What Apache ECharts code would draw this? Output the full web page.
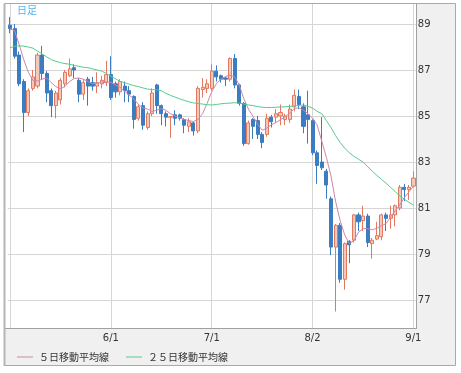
<!DOCTYPE html>
<html><head><meta charset="utf-8">
<script src="https://cdn.jsdelivr.net/npm/echarts@6/dist/echarts.min.js"></script>
<style>html,body{margin:0;padding:0;background:#fff;}#c{width:461px;height:373px;}</style>
</head><body><div id="c"></div>
<script>
const dates = ['4/30',
 '5/3','5/4','5/5','5/6','5/7','5/10','5/11','5/12','5/13','5/14','5/17','5/18','5/19','5/20','5/21','5/24','5/25','5/26','5/27','5/28','5/31',
 '6/1','6/2','6/3','6/4','6/7','6/8','6/9','6/10','6/11','6/14','6/15','6/16','6/17','6/18','6/21','6/22','6/23','6/24','6/25','6/28','6/29','6/30',
 '7/1','7/2','7/5','7/6','7/7','7/8','7/9','7/12','7/13','7/14','7/15','7/16','7/19','7/20','7/21','7/22','7/23','7/26','7/27','7/28','7/29','7/30',
 '8/2','8/3','8/4','8/5','8/6','8/9','8/10','8/11','8/12','8/13','8/16','8/17','8/18','8/19','8/20','8/23','8/24','8/25','8/26','8/27','8/30','8/31',
 '9/1'];
const open = [88.95,88.8,87.65,86.5,85.15,86.2,86.3,87.65,86.85,86.1,
 85.45,85.7,86.4,86.75,87.1,86.55,85.95,86.6,86.45,86.3,
 86.4,86.45,86.8,86.4,86.05,86.3,86.1,85.85,84.9,85.45,
 84.5,85.1,86.35,85.45,85.1,84.95,85.05,85.05,84.85,84.55,
 84.7,84.35,86.15,86.2,86.2,86.95,86.75,86.65,86.6,87.5,
 86.35,85.55,83.8,84.85,84.8,84.2,84.2,84.95,84.95,85.0,
 84.85,84.85,85.4,85.85,85.4,85.05,84.8,83.4,83.0,82.6,
 81.4,79.3,80.25,77.9,79.55,79.6,80.7,80.45,80.65,79.45,
 79.65,79.75,80.7,80.55,80.7,81.0,81.9,81.8,81.95];
const close = [88.8,87.6,86.4,85.15,86.1,86.7,87.65,86.85,86.0,85.45,
 86.0,86.55,86.9,87.05,87.0,85.95,86.45,86.3,86.3,86.45,
 86.55,86.8,85.8,86.05,86.5,86.1,85.95,84.85,85.4,84.6,
 85.1,86.0,85.45,85.1,84.95,84.97,84.9,84.9,84.6,84.75,
 84.35,86.2,86.25,86.4,86.95,86.7,86.6,86.6,87.5,86.35,
 85.55,83.8,84.7,84.55,84.2,83.85,84.9,84.75,85.1,85.15,
 85.0,85.3,85.9,85.5,84.55,84.85,83.4,82.85,82.75,82.0,
 79.3,80.25,77.9,79.45,79.4,80.7,80.4,80.65,79.5,79.6,
 79.8,80.7,80.55,80.7,81.1,81.9,81.8,81.9,82.3];
const low = [88.6,87.5,86.3,84.3,85.0,86.1,86.2,86.6,85.6,84.95,
 84.9,85.5,86.25,86.7,86.65,85.6,85.7,85.45,86.1,86.0,
 86.2,86.3,85.7,85.8,85.9,85.6,85.6,84.45,84.8,84.4,
 84.4,85.0,85.1,84.6,84.55,84.05,84.6,84.8,84.25,84.3,
 84.15,84.25,85.8,86.0,86.1,86.5,86.45,86.3,86.5,86.2,
 85.45,83.7,83.75,84.0,84.0,83.6,84.1,84.5,84.7,84.6,
 84.6,84.7,85.2,85.3,84.25,83.8,83.3,82.05,82.65,81.4,
 78.95,76.5,77.75,77.45,78.6,79.5,80.0,80.0,79.3,78.8,
 79.6,79.6,80.0,80.1,80.2,80.9,81.3,81.35,81.9];
const high = [89.3,89.0,87.8,86.6,86.2,87.0,87.75,88.05,86.95,86.2,
 86.1,86.65,87.0,87.5,87.25,86.65,86.6,86.7,86.7,86.9,
 86.75,87.4,87.6,86.5,86.6,86.5,86.3,85.9,85.5,85.6,
 85.2,86.2,86.4,85.5,85.2,85.0,85.25,85.1,84.9,84.9,
 84.75,86.3,86.65,86.6,87.25,87.2,86.8,86.7,87.55,87.7,
 86.4,85.6,84.8,84.9,85.0,84.3,85.1,85.05,85.3,85.5,
 85.1,85.5,86.15,86.15,85.55,86.1,84.85,83.5,84.95,82.7,
 81.5,80.3,80.35,79.5,79.6,80.75,80.8,81.1,80.75,79.7,
 80.4,80.75,80.8,81.1,81.15,82.0,82.05,82.0,82.6];
const ma5 = [88.78,88.72,88.1,87.45,86.9,86.55,86.52,86.6,86.65,86.45,
 86.28,86.18,86.28,86.5,86.63,86.65,86.6,86.5,86.4,86.42,
 86.47,86.48,86.46,86.35,86.25,86.08,85.9,85.75,85.5,85.35,
 85.3,85.2,85.25,85.32,85.25,85.1,85.0,84.92,84.85,84.8,
 84.76,84.85,85.1,85.55,86.06,86.4,86.6,86.72,86.77,86.7,
 86.35,85.75,85.3,84.98,84.65,84.38,84.47,84.62,84.72,84.84,
 84.97,85.12,85.33,85.35,85.25,85.1,84.9,84.6,83.9,83.2,
 82.4,81.3,80.45,79.83,79.45,79.58,79.95,80.1,80.1,80.05,
 80.12,80.23,80.32,80.6,80.88,81.13,81.45,81.7,81.95];
const ma25 = [87.97,88.03,88.05,88.04,88.0,87.95,87.82,87.7,87.57,87.45,
 87.38,87.32,87.28,87.25,87.2,87.16,87.12,87.1,87.05,87.0,
 86.95,86.85,86.72,86.62,86.5,86.45,86.38,86.32,86.28,86.22,
 86.17,86.15,86.14,86.1,85.98,85.9,85.82,85.75,85.68,85.62,
 85.57,85.54,85.52,85.49,85.48,85.5,85.53,85.55,85.56,85.58,
 85.56,85.52,85.48,85.45,85.41,85.38,85.37,85.37,85.38,85.39,
 85.4,85.42,85.44,85.46,85.48,85.42,85.34,85.2,85.1,84.8,
 84.5,84.15,83.85,83.6,83.4,83.25,83.12,83.0,82.8,82.6,
 82.42,82.25,82.08,81.9,81.72,81.52,81.38,81.25,81.12];
const labelDates = ['6/1','7/1','8/2','9/1'];
const gridDates = ['4/30','6/1','7/1','8/2','9/1'];
const seriesNames = ['５日移動平均線','２５日移動平均線'];

const candles = dates.map((d, i) => [open[i], close[i], low[i], high[i]]);
const chart = echarts.init(document.getElementById('c'), null, {renderer: 'canvas'});
chart.setOption({
  animation: false,
  backgroundColor: '#ffffff',
  graphic: [
    {type: 'rect', z: -10, shape: {x: 4.5, y: 3.5, width: 451, height: 362}, style: {fill: '#f0f0f0', stroke: '#a9a9a9', lineWidth: 1}},
    {type: 'rect', z: -9, shape: {x: 5, y: 4, width: 411, height: 324}, style: {fill: '#ffffff'}},
    {type: 'line', z: 50, shape: {x1: 416.5, y1: 4, x2: 416.5, y2: 329}, style: {stroke: '#a0a0a0', lineWidth: 1}},
    {type: 'line', z: 50, shape: {x1: 5, y1: 328.5, x2: 417, y2: 328.5}, style: {stroke: '#a0a0a0', lineWidth: 1}},
    {type: 'line', z: 50, shape: {x1: 4.5, y1: 3.5, x2: 4.5, y2: 366}, style: {stroke: '#b5b5b5', lineWidth: 2}},
    {type: 'text', z: 50, left: 17, top: 5, style: {text: '日足', fill: '#55b4ea', font: '10px "Noto Sans CJK JP"'}}
  ],
  legend: {
    left: 17, top: 352, padding: 0, icon: 'rect', itemWidth: 16, itemHeight: 1, itemGap: 17,
    textStyle: {fontFamily: 'Noto Sans CJK JP', fontSize: 10, color: '#333', padding: [0, 0, 0, 1]},
    data: seriesNames
  },
  grid: [
    {left: 7.7, top: -22, width: 408.1, height: 368, outerBoundsMode: 'none'},
    {left: 10, top: 4, width: 403.4, height: 324, outerBoundsMode: 'none'}
  ],
  xAxis: [
    {type: 'category', gridIndex: 0, data: dates, boundaryGap: true, show: false},
    {type: 'category', gridIndex: 1, data: dates, boundaryGap: false,
     axisLine: {show: false}, axisTick: {show: false},
     axisLabel: {interval: (i, v) => labelDates.includes(v), margin: 5, color: '#333', fontFamily: 'DejaVu Sans', fontSize: 10},
     splitLine: {show: true, interval: (i, v) => gridDates.includes(v), lineStyle: {color: '#d6d6d6', width: 1}}}
  ],
  yAxis: [
    {type: 'value', gridIndex: 0, position: 'right', min: 75, max: 91, interval: 2,
     axisLine: {show: false}, axisTick: {show: false},
     axisLabel: {margin: 2, color: '#333', fontFamily: 'DejaVu Sans', fontSize: 10, formatter: v => (v < 76 || v > 90) ? '' : String(v)},
     splitLine: {show: true, showMinLine: false, showMaxLine: false, lineStyle: {color: '#d6d6d6', width: 1}}},
    {type: 'value', gridIndex: 1, show: false}
  ],
  series: [
    {type: 'candlestick', xAxisIndex: 0, yAxisIndex: 0, data: candles, barWidth: 3.6,
     itemStyle: {color: '#f6c8ba', color0: '#3b7dc0', borderColor: '#e3785f', borderColor0: '#3b7dc0', borderWidth: 1}},
    {type: 'line', name: seriesNames[0], xAxisIndex: 0, yAxisIndex: 0, data: ma5, symbol: 'none',
     lineStyle: {color: '#cf86ab', width: 1}, itemStyle: {color: '#cf86ab'}},
    {type: 'line', name: seriesNames[1], xAxisIndex: 0, yAxisIndex: 0, data: ma25, symbol: 'none',
     lineStyle: {color: '#55cc8f', width: 1}, itemStyle: {color: '#55cc8f'}}
  ]
});
</script></body></html>
